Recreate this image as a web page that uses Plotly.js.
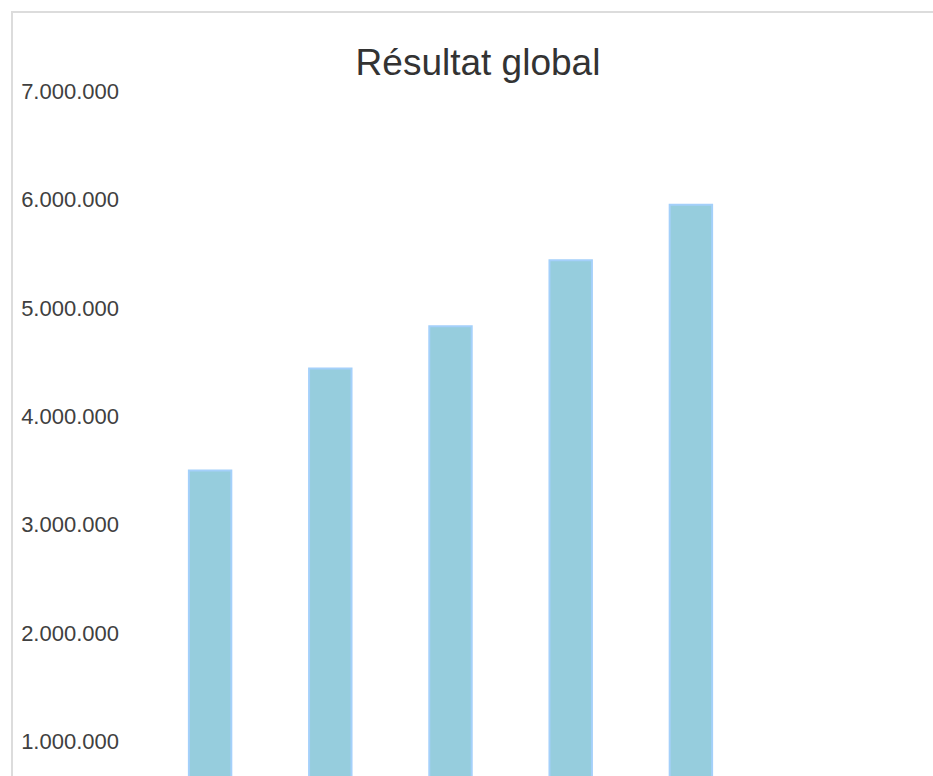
<!DOCTYPE html>
<html>
<head>
<meta charset="utf-8">
<script src="https://cdn.plot.ly/plotly-3.0.1.min.js"></script>
<style>
  html, body { margin: 0; padding: 0; background: #ffffff; overflow: hidden; }
  #frame { position: absolute; left: 11px; top: 11px; width: 960px; height: 960px;
           border-top: 2px solid #dcdcdc; border-left: 2px solid #dcdcdc; }
  #chart { position: absolute; left: 0; top: 0; width: 930px; height: 900px; }
</style>
</head>
<body>
<div id="frame"><div id="chart"></div></div>
<script>
const categories = ["2018", "2019", "2020", "2021", "2022"];
const resultat = [3500000, 4440000, 4830000, 5440000, 5950000];
const tickValues = [0, 1000000, 2000000, 3000000, 4000000, 5000000, 6000000, 7000000];
const tickLabels = ["0", "1.000.000", "2.000.000", "3.000.000", "4.000.000", "5.000.000", "6.000.000", "7.000.000"];

const trace = {
  type: "bar",
  x: categories,
  y: resultat,
  marker: { color: "#96cddd", line: { color: "#a4d0fa", width: 2 } },
  hoverinfo: "x+y"
};

const layout = {
  width: 930,
  height: 900,
  margin: { l: 137, r: 192, t: 78, b: 63 },
  paper_bgcolor: "#ffffff",
  plot_bgcolor: "#ffffff",
  font: { family: "Liberation Sans, Arial, sans-serif", color: "#404040" },
  title: {
    text: "Résultat global",
    font: { size: 37, color: "#333333", family: "Liberation Sans, Arial, sans-serif" },
    x: 0.5, xanchor: "center",
    y: 0.946, yanchor: "middle"
  },
  bargap: 0.647,
  showlegend: false,
  xaxis: {
    type: "category",
    showgrid: false, zeroline: false, showline: false,
    tickfont: { size: 22, color: "#404040" }
  },
  yaxis: {
    range: [0, 7000000],
    tickmode: "array",
    tickvals: tickValues,
    ticktext: tickLabels,
    showgrid: false, zeroline: false, showline: false,
    ticks: "",
    ticklabelstandoff: 30,
    tickfont: { size: 22, color: "#404040" }
  }
};

Plotly.newPlot("chart", [trace], layout, { displayModeBar: false });
</script>
</body>
</html>
